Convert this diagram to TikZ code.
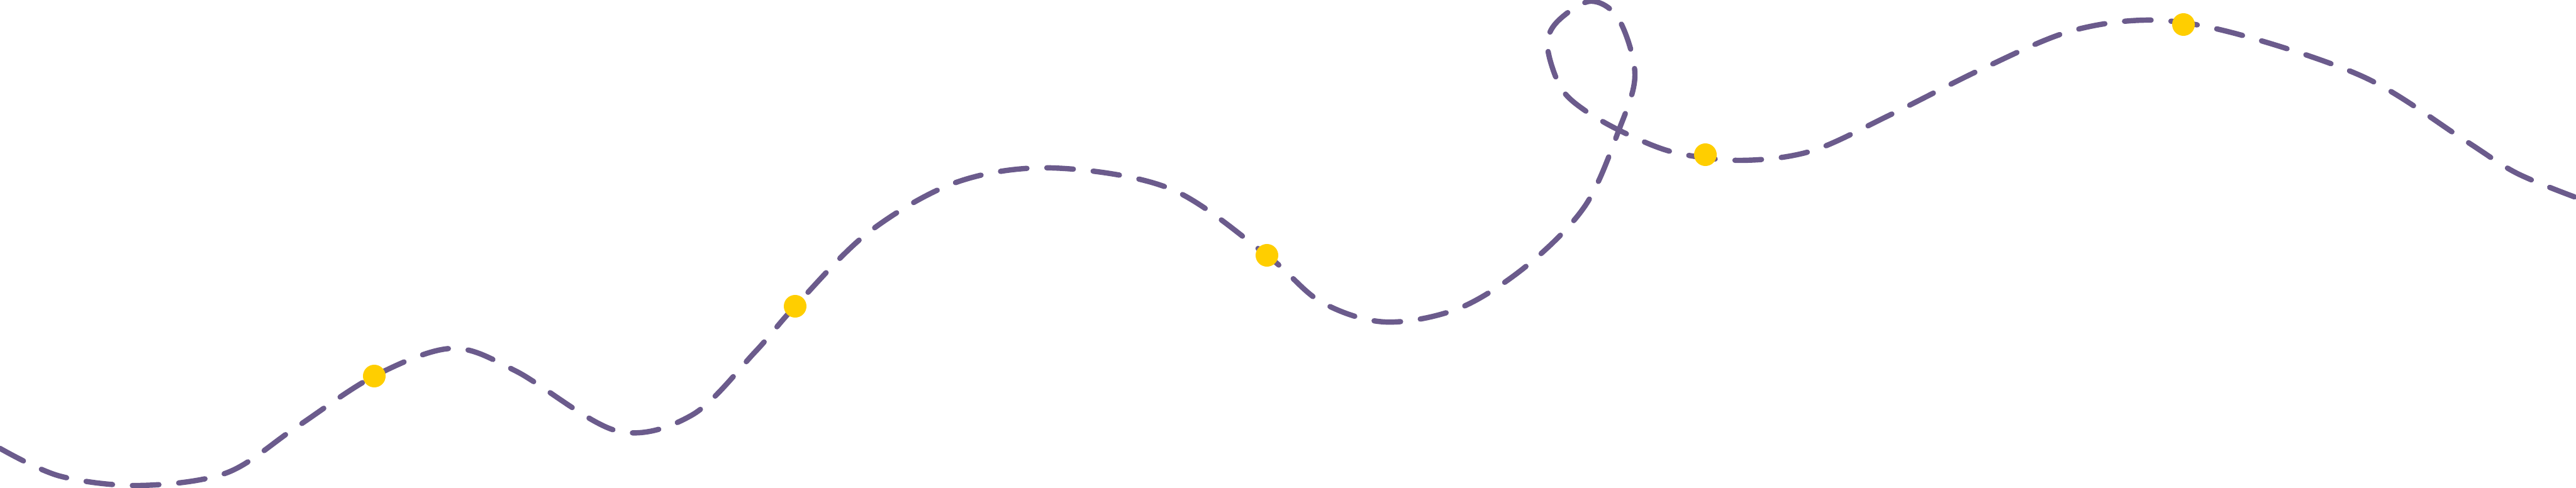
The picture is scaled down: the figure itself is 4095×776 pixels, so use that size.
\documentclass[tikz,border=0pt]{standalone}
\definecolor{pathc}{HTML}{6B5B8C}
\definecolor{dotc}{HTML}{FFCE00}
\begin{document}
\begin{tikzpicture}[x=0.01cm,y=-0.01cm,
  trail/.style={draw=pathc,line width=2.4pt,line cap=round,dash pattern=on 12pt off 9pt},
  marker/.style={circle,fill=dotc,minimum size=0.36cm,inner sep=0pt}]
\useasboundingbox (0,0) rectangle (4095,776);
\draw[trail] plot[smooth,tension=0.55] coordinates{
 (0,713) (95,757) (222,772) (360,752) (470,680) (595,598) (718,554) (820,590) (980,685) (1100,660) (1200,560) (1264,487)
 (1380,370) (1520,290) (1672,267) (1860,300) (2014,406) (2100,480) (2202,512) (2320,490) (2429,421) (2520,327) (2573,208) (2599,119) (2573,30) (2528,2)
 (2475,35) (2460,74) (2481,139) (2520,176) (2586,213) (2664,243) (2769,255) (2880,240) (3004,183) (3150,110) (3290,50) (3422,32) (3560,55) (3761,124) (3918,223) (4000,275) (4095,314)};
\node[marker] (d1) at (595,598) {};
\node[marker] (d2) at (1264,487) {};
\node[marker] (d3) at (2014,406) {};
\node[marker] (d4) at (2711,246) {};
\node[marker] (d5) at (3471,39) {};
\end{tikzpicture}
\end{document}
